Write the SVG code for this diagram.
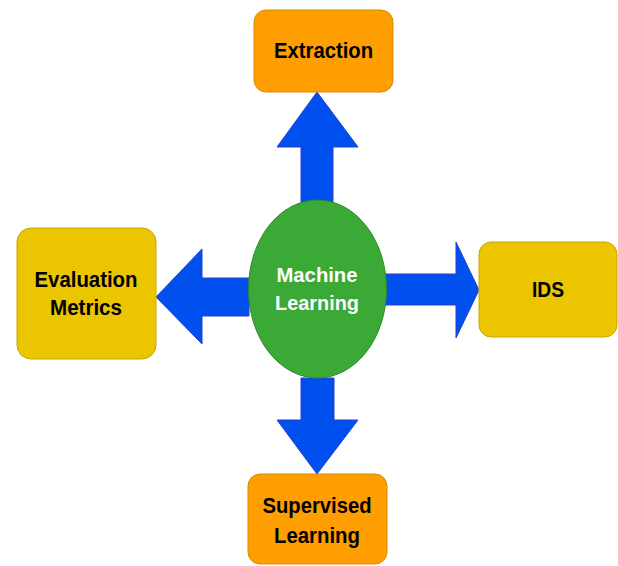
<svg xmlns="http://www.w3.org/2000/svg" width="618" height="566" viewBox="0 0 618 566">
<style>
.orange{fill:#FF9E00;stroke:#D98A0A;stroke-width:1}
.yellow{fill:#EAC500;stroke:#C9A800;stroke-width:1}
.arrow{fill:#0050EF;stroke:#2A3FD0;stroke-width:1}
.lbl{font-family:"Liberation Sans",Arial,sans-serif;font-weight:bold;font-size:22px;text-anchor:middle;fill:#000}
.wlbl{font-family:"Liberation Sans",Arial,sans-serif;font-weight:bold;font-size:21px;text-anchor:middle;fill:#fff}
</style>
<rect width="618" height="566" fill="#fff"/>
<g id="connectors">
<polygon class="arrow" points="301,202 301,147 277,147 317,92 358,147 333,147 333,202"/>
<polygon class="arrow" points="249,278 202,278 202,249 156,297 202,344 202,316 249,316"/>
<polygon class="arrow" points="385,274 456,274 456,242 479,290 456,338 456,305 385,305"/>
<polygon class="arrow" points="301,378 301,420 277,420 317,474 358,420 334,420 334,378"/>
</g>
<g id="extraction">
<rect class="orange" x="254" y="10" width="139" height="82" rx="12"/>
<text class="lbl" x="323.5" y="58" textLength="99" lengthAdjust="spacingAndGlyphs">Extraction</text>
</g>
<g id="evaluation">
<rect class="yellow" x="17" y="228" width="139" height="131" rx="14"/>
<text class="lbl" x="86" y="287" textLength="103" lengthAdjust="spacingAndGlyphs">Evaluation</text>
<text class="lbl" x="86" y="315" textLength="72" lengthAdjust="spacingAndGlyphs">Metrics</text>
</g>
<g id="ids">
<rect class="yellow" x="479" y="242" width="138" height="95" rx="12"/>
<text class="lbl" x="548" y="297" textLength="32" lengthAdjust="spacingAndGlyphs">IDS</text>
</g>
<g id="supervised">
<rect class="orange" x="248" y="474" width="139" height="90" rx="12"/>
<text class="lbl" x="317" y="513" textLength="109" lengthAdjust="spacingAndGlyphs">Supervised</text>
<text class="lbl" x="317" y="543" textLength="86" lengthAdjust="spacingAndGlyphs">Learning</text>
</g>
<g id="machine-learning">
<ellipse cx="317.5" cy="289" rx="69" ry="89" fill="#3AA935" stroke="#2E8A2A" stroke-width="1"/>
<text class="wlbl" x="317" y="282" textLength="81" lengthAdjust="spacingAndGlyphs">Machine</text>
<text class="wlbl" x="317" y="310" textLength="84" lengthAdjust="spacingAndGlyphs">Learning</text>
</g>
</svg>
